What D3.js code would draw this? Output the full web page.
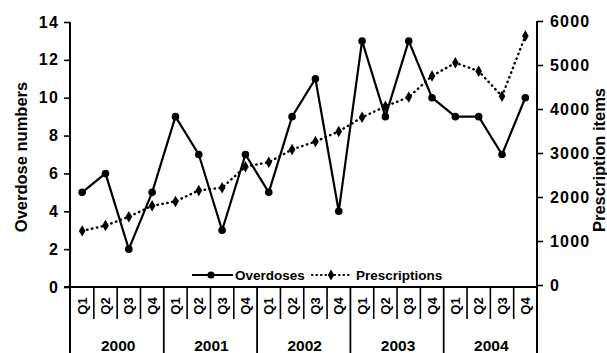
<!DOCTYPE html>
<html><head><meta charset="utf-8">
<script src="https://cdn.jsdelivr.net/npm/d3@7"></script>
<style>html,body{margin:0;padding:0;background:#fff;}svg{display:block;}</style>
</head><body>
<script>
const years = ["2000","2001","2002","2003","2004"];
const quarters = ["Q1","Q2","Q3","Q4"];
const overdoses = [5,6,2,5, 9,7,3,7, 5,9,11,4, 13,9,13,10, 9,9,7,10];
const prescriptions = [1230,1350,1550,1800, 1900,2150,2210,2690, 2790,3080,3260,3490, 3810,4060,4270,4750, 5050,4860,4290,5660];
const leftTicks = [0,2,4,6,8,10,12,14];
const rightTicks = [0,1000,2000,3000,4000,5000,6000];

const W = 607, H = 353;
const svg = d3.select("body").append("svg").attr("width", W).attr("height", H);
const font = "'Liberation Sans', Arial, sans-serif";

const cats = [];
years.forEach(y => quarters.forEach(q => cats.push(y + "-" + q)));

const x = d3.scaleBand().domain(cats).range([70.5, 537]);
const yL = d3.scaleLinear().domain([0,14]).range([287, 22]);
const yR = d3.scaleLinear().domain([0,6000]).range([285, 21]);

// Left axis
const gL = svg.append("g").attr("transform", "translate(70,0)")
  .call(d3.axisLeft(yL).tickValues(leftTicks).tickSize(6).tickPadding(5).tickFormat(d3.format("d")));
// Right axis
const gR = svg.append("g").attr("transform", "translate(537,0)")
  .call(d3.axisRight(yR).tickValues(rightTicks).tickSize(6).tickPadding(7).tickFormat(d3.format("d")));
[gL, gR].forEach(g => {
  g.select(".domain").attr("stroke", "#000").attr("stroke-width", 2).attr("d", null);
  g.selectAll(".tick line").attr("stroke", "#000").attr("stroke-width", 1.6);
  g.selectAll(".tick text").attr("fill", "#000").attr("font-family", font)
    .attr("font-weight", "bold").attr("font-size", 16).attr("letter-spacing", 1.2);
});
gL.select(".domain").remove();
gR.select(".domain").remove();
svg.append("line").attr("x1", 70).attr("x2", 70).attr("y1", yL(14)).attr("y2", H).attr("stroke", "#000").attr("stroke-width", 2);
svg.append("line").attr("x1", 537).attr("x2", 537).attr("y1", yR(6000)).attr("y2", H).attr("stroke", "#000").attr("stroke-width", 2);

// X axis baseline
svg.append("line").attr("x1", 64).attr("x2", 537).attr("y1", 287).attr("y2", 287).attr("stroke", "#000").attr("stroke-width", 2);

// Quarter dividers and labels
cats.forEach((c, i) => {
  const x0 = x(c);
  if (i % 4 !== 0) {
    svg.append("line").attr("x1", x0).attr("x2", x0).attr("y1", 287).attr("y2", 319)
      .attr("stroke", "#000").attr("stroke-width", 1.6);
  }
  const cx = x0 + x.bandwidth() / 2;
  svg.append("text").attr("transform", `translate(${cx + 4.5},306) rotate(-90)`)
    .attr("text-anchor", "middle").attr("font-family", font).attr("font-weight", "bold")
    .attr("font-size", 13).text(quarters[i % 4]);
});
// Year dividers and labels
years.forEach((yv, i) => {
  const x0 = x(yv + "-Q1");
  const x1 = x(yv + "-Q4") + x.bandwidth();
  if (i > 0) svg.append("line").attr("x1", x0).attr("x2", x0).attr("y1", 287).attr("y2", H)
    .attr("stroke", "#000").attr("stroke-width", 1.8);
  svg.append("text").attr("x", (x0 + x1) / 2 + 1).attr("y", 351)
    .attr("text-anchor", "middle").attr("font-family", font).attr("font-weight", "bold")
    .attr("font-size", 15.5).text(yv);
});

const cx = (d, i) => x(cats[i]) + x.bandwidth() / 2;

// Prescriptions dotted line
svg.append("path").datum(prescriptions)
  .attr("d", d3.line().x(cx).y(d => yR(d)))
  .attr("fill", "none").attr("stroke", "#000").attr("stroke-width", 2.4)
  .attr("stroke-dasharray", "0.5,4.5").attr("stroke-linecap", "round");
svg.selectAll(".pm").data(prescriptions).enter().append("path")
  .attr("transform", (d, i) => `translate(${cx(d, i)},${yR(d)})`)
  .attr("d", d3.symbol().type(d3.symbolDiamond).size(38))
  .attr("fill", "#000");

// Overdoses solid line
svg.append("path").datum(overdoses)
  .attr("d", d3.line().x(cx).y(d => yL(d)))
  .attr("fill", "none").attr("stroke", "#000").attr("stroke-width", 2.2).attr("stroke-linejoin", "round");
svg.selectAll(".om").data(overdoses).enter().append("circle")
  .attr("cx", cx).attr("cy", d => yL(d)).attr("r", 3.8).attr("fill", "#000");

// Axis titles
svg.append("text").attr("transform", "translate(27,157) rotate(-90)")
  .attr("text-anchor", "middle").attr("font-family", font).attr("font-weight", "bold")
  .attr("font-size", 16.5).text("Overdose numbers");
svg.append("text").attr("transform", "translate(605,160) rotate(-90)")
  .attr("text-anchor", "middle").attr("font-family", font).attr("font-weight", "bold")
  .attr("font-size", 16.5).text("Prescription items");

// Legend
const ly = 275;
svg.append("line").attr("x1", 192).attr("x2", 233).attr("y1", ly).attr("y2", ly).attr("stroke", "#000").attr("stroke-width", 2.2);
svg.append("circle").attr("cx", 211).attr("cy", ly).attr("r", 3.6).attr("fill", "#000");
svg.append("text").attr("x", 235).attr("y", ly + 4.5).attr("font-family", font).attr("font-weight", "bold")
  .attr("font-size", 13.5).text("Overdoses");
svg.append("line").attr("x1", 312).attr("x2", 352).attr("y1", ly).attr("y2", ly).attr("stroke", "#000").attr("stroke-width", 2.2)
  .attr("stroke-dasharray", "0.5,4").attr("stroke-linecap", "round");
svg.append("path").attr("transform", `translate(331,${ly})`).attr("d", d3.symbol().type(d3.symbolDiamond).size(34)).attr("fill", "#000");
svg.append("text").attr("x", 356).attr("y", ly + 4.5).attr("font-family", font).attr("font-weight", "bold")
  .attr("font-size", 13.5).text("Prescriptions");
</script>
</body></html>
